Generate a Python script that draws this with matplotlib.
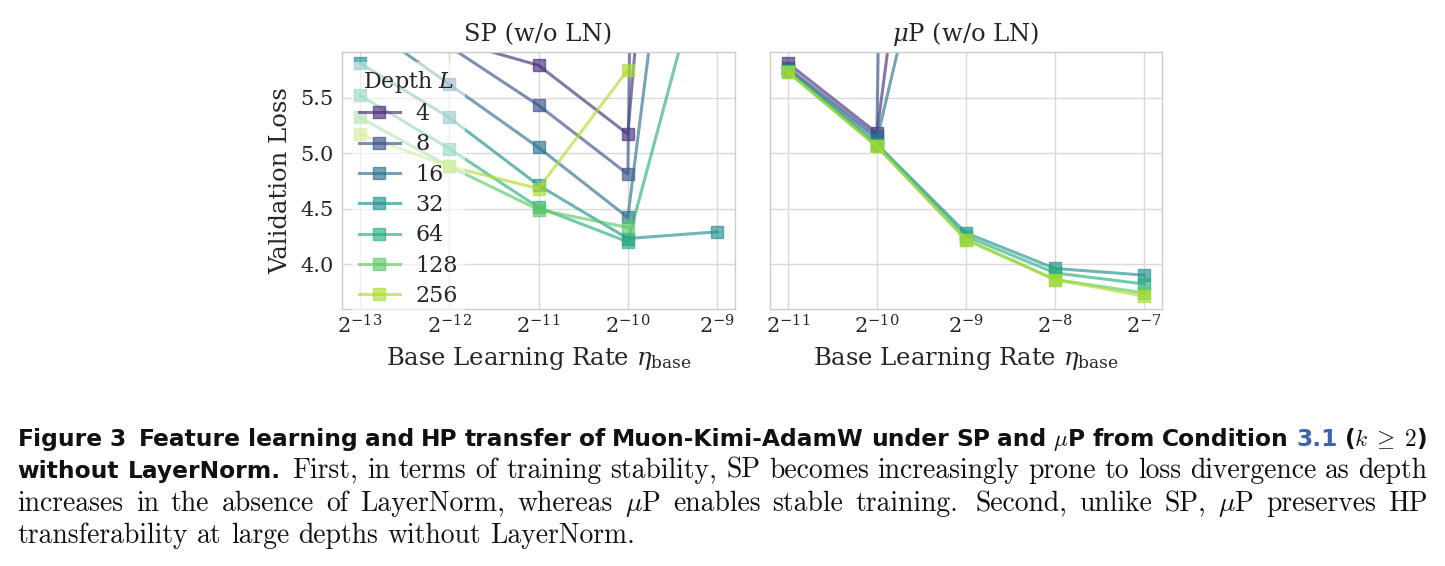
import numpy as np
import matplotlib
matplotlib.use("Agg")
import matplotlib.pyplot as plt
from matplotlib.transforms import IdentityTransform
from matplotlib.ticker import FixedLocator, FixedFormatter, NullLocator

# ---------------- data ----------------
depths = [4, 8, 16, 32, 64, 128, 256]
nan = np.nan

sp_exponents = [-13, -12, -11, -10, -9]
sp_tick_labels = [r"$2^{-13}$", r"$2^{-12}$", r"$2^{-11}$", r"$2^{-10}$", r"$2^{-9}$"]
sp_d4 = [6.30, 6.02, 5.79, 5.17, 14.6]
sp_d8 = [6.50, 5.96, 5.43, 4.81, 60.0]
sp_d16 = [6.19, 5.62, 5.05, 4.42, 10.8]
sp_d32 = [5.81, 5.32, 4.71, 4.23, 4.29]
sp_d64 = [5.52, 5.04, 4.51, 4.20, 7.2]
sp_d128 = [5.32, 4.88, 4.49, 4.33, nan]
sp_d256 = [5.17, 4.88, 4.68, 5.75, nan]

mup_exponents = [-11, -10, -9, -8, -7]
mup_tick_labels = [r"$2^{-11}$", r"$2^{-10}$", r"$2^{-9}$", r"$2^{-8}$", r"$2^{-7}$"]
mup_d4 = [5.81, 5.18, 11.3, nan, nan]
mup_d8 = [5.77, 5.15, 60.0, nan, nan]
mup_d16 = [5.75, 5.12, 8.54, nan, nan]
mup_d32 = [5.74, 5.08, 4.28, 3.96, 3.90]
mup_d64 = [5.74, 5.07, 4.25, 3.92, 3.82]
mup_d128 = [5.73, 5.06, 4.22, 3.86, 3.74]
mup_d256 = [5.73, 5.06, 4.22, 3.86, 3.71]

y_ticks = [4.0, 4.5, 5.0, 5.5]
y_tick_labels = ["4.0", "4.5", "5.0", "5.5"]

sp_series = [sp_d4, sp_d8, sp_d16, sp_d32, sp_d64, sp_d128, sp_d256]
mup_series = [mup_d4, mup_d8, mup_d16, mup_d32, mup_d64, mup_d128, mup_d256]

# ---------------- style ----------------
plt.rcParams["font.family"] = ["DejaVu Serif"]
plt.rcParams["mathtext.fontset"] = "dejavuserif"
plt.rcParams["text.color"] = "#262626"
plt.rcParams["axes.labelcolor"] = "#262626"
plt.rcParams["xtick.color"] = "#262626"
plt.rcParams["ytick.color"] = "#262626"

W, H = 1445, 566
fig = plt.figure(figsize=(W / 100, H / 100), dpi=100)
renderer = fig.canvas.get_renderer()

ax1 = fig.add_axes([342 / W, 1 - 309 / H, 393 / W, 257 / H])
ax2 = fig.add_axes([770 / W, 1 - 309 / H, 392 / W, 257 / H], sharey=ax1)

cmap = plt.get_cmap("viridis")
colors = [cmap(v) for v in np.linspace(0, 1, len(depths) + 2)[1:-1]]


def draw_panel(ax, exps, series, labels, title, with_legend):
    lrs = [2.0 ** e for e in exps]
    for d, vals, c in zip(depths, series, colors):
        ax.plot(lrs, vals, marker="s", ms=9, lw=2.2, color=c, alpha=0.65,
                label=str(d))
    ax.set_xscale("log", base=2)
    ax.xaxis.set_major_locator(FixedLocator(lrs))
    ax.xaxis.set_major_formatter(FixedFormatter(labels))
    ax.xaxis.set_minor_locator(NullLocator())
    ax.set_ylim(3.595, 5.91)
    ax.set_yticks(y_ticks)
    ax.grid(True, color="#dadada", lw=1.0)
    ax.set_axisbelow(True)
    for s in ax.spines.values():
        s.set_color("#cccccc")
        s.set_linewidth(1.0)
    ax.tick_params(axis="both", length=0, labelsize=15)
    ax.tick_params(axis="x", pad=4)
    ax.tick_params(axis="y", pad=6)
    ax.set_title(title, fontsize=17.5, pad=8)
    ax.set_xlabel(r"Base Learning Rate $\eta_{\mathrm{base}}$", fontsize=17.5, labelpad=5)
    if with_legend:
        leg = ax.legend(title=r"Depth $L$", loc="upper left", fontsize=16,
                        title_fontsize=16, frameon=True, framealpha=0.55,
                        facecolor="white", edgecolor="none", handlelength=1.85,
                        handletextpad=0.7, labelspacing=0.375, borderaxespad=0.45,
                        borderpad=0.3)
        leg.get_frame().set_linewidth(0)


draw_panel(ax1, sp_exponents, sp_series, sp_tick_labels, "SP (w/o LN)", True)
draw_panel(ax2, mup_exponents, mup_series, mup_tick_labels, r"$\mu$P (w/o LN)", False)
ax1.set_yticklabels(y_tick_labels)
ax1.set_ylabel("Validation Loss", fontsize=17.5, labelpad=6)
ax2.tick_params(axis="y", labelleft=False)

# ---------------- caption ----------------
head_kw = dict(family=["DejaVu Sans"], weight="bold", color="#111111",
               math_fontfamily="cm")
body_kw = dict(family=["cmr10"], color="#111111", math_fontfamily="cm")
blue = "#3864b4"
BODY_SIZE = 19.9
X0, X1 = 17.5, 1427.5

line1 = [("Figure", "h", 0), ("3", "h", 1), ("Feature", "h", 1.8), ("learning", "h", 1),
         ("and", "h", 1), ("HP", "h", 1), ("transfer", "h", 1), ("of", "h", 1),
         ("Muon-Kimi-AdamW", "h", 1), ("under", "h", 1), ("SP", "h", 1), ("and", "h", 1),
         (r"$\mu$P", "h", 1), ("from", "h", 1), ("Condition", "h", 1), ("3.1", "hb", 1),
         (r"($k\;\geq\;2$)", "h", 1)]
line2 = [("without", "h", 0), ("LayerNorm.", "h", 1), ("First,", "b", 1.3), ("in", "b", 1),
         ("terms", "b", 1), ("of", "b", 1), ("training", "b", 1), ("stability,", "b", 1),
         ("SP", "b", 1), ("becomes", "b", 1), ("increasingly", "b", 1), ("prone", "b", 1),
         ("to", "b", 1), ("loss", "b", 1), ("divergence", "b", 1), ("as", "b", 1),
         ("depth", "b", 1)]
line3 = [("increases", "b", 0), ("in", "b", 1), ("the", "b", 1), ("absence", "b", 1),
         ("of", "b", 1), ("LayerNorm,", "b", 1), ("whereas", "b", 1), (r"$\mu$P", "b", 1),
         ("enables", "b", 1), ("stable", "b", 1), ("training.", "b", 1),
         ("Second,", "b", 1.4), ("unlike", "b", 1), ("SP,", "b", 1), (r"$\mu$P", "b", 1),
         ("preserves", "b", 1), ("HP", "b", 1)]
line4 = [("transferability", "b", 0), ("at", "b", 1), ("large", "b", 1), ("depths", "b", 1),
         ("without", "b", 1), ("LayerNorm.", "b", 1)]


def make_texts(tokens, head_size):
    out = []
    for s, kind, gap in tokens:
        if kind.startswith("h"):
            kw = dict(head_kw, fontsize=head_size)
            if kind == "hb":
                kw["color"] = blue
        else:
            kw = dict(body_kw, fontsize=BODY_SIZE)
        t = fig.text(0, 0, s, transform=IdentityTransform(), ha="left",
                     va="baseline", **kw)
        w = t.get_window_extent(renderer=renderer).width
        out.append([t, w, gap, kw["fontsize"]])
    return out


def layout(objs, baseline, justify):
    y = H - baseline
    if justify:
        total_w = sum(o[1] for o in objs)
        total_g = sum(o[2] for o in objs)
        unit = (X1 - X0 - total_w) / total_g
    x = X0
    for i, (t, w, gap, fs) in enumerate(objs):
        if i > 0:
            if justify:
                x += gap * unit
            else:
                x += gap * 0.333 * fs * 100 / 72
        t.set_position((x, y))
        x += w


# auto-fit the bold heading size to the first line
trial = 16.0
objs = make_texts(line1, trial)
nat = sum(o[1] for o in objs) + sum(o[2] for o in objs) * 0.3 * trial * 100 / 72
for o in objs:
    o[0].remove()
head_size = max(13.0, min(17.0, trial * (X1 - X0) / nat))

layout(make_texts(line1, head_size), 445.7, True)
layout(make_texts(line2, head_size), 477.7, True)
layout(make_texts(line3, head_size), 511.0, True)
layout(make_texts(line4, head_size), 543.3, False)

fig.savefig("out.png", dpi=100, facecolor="white")
